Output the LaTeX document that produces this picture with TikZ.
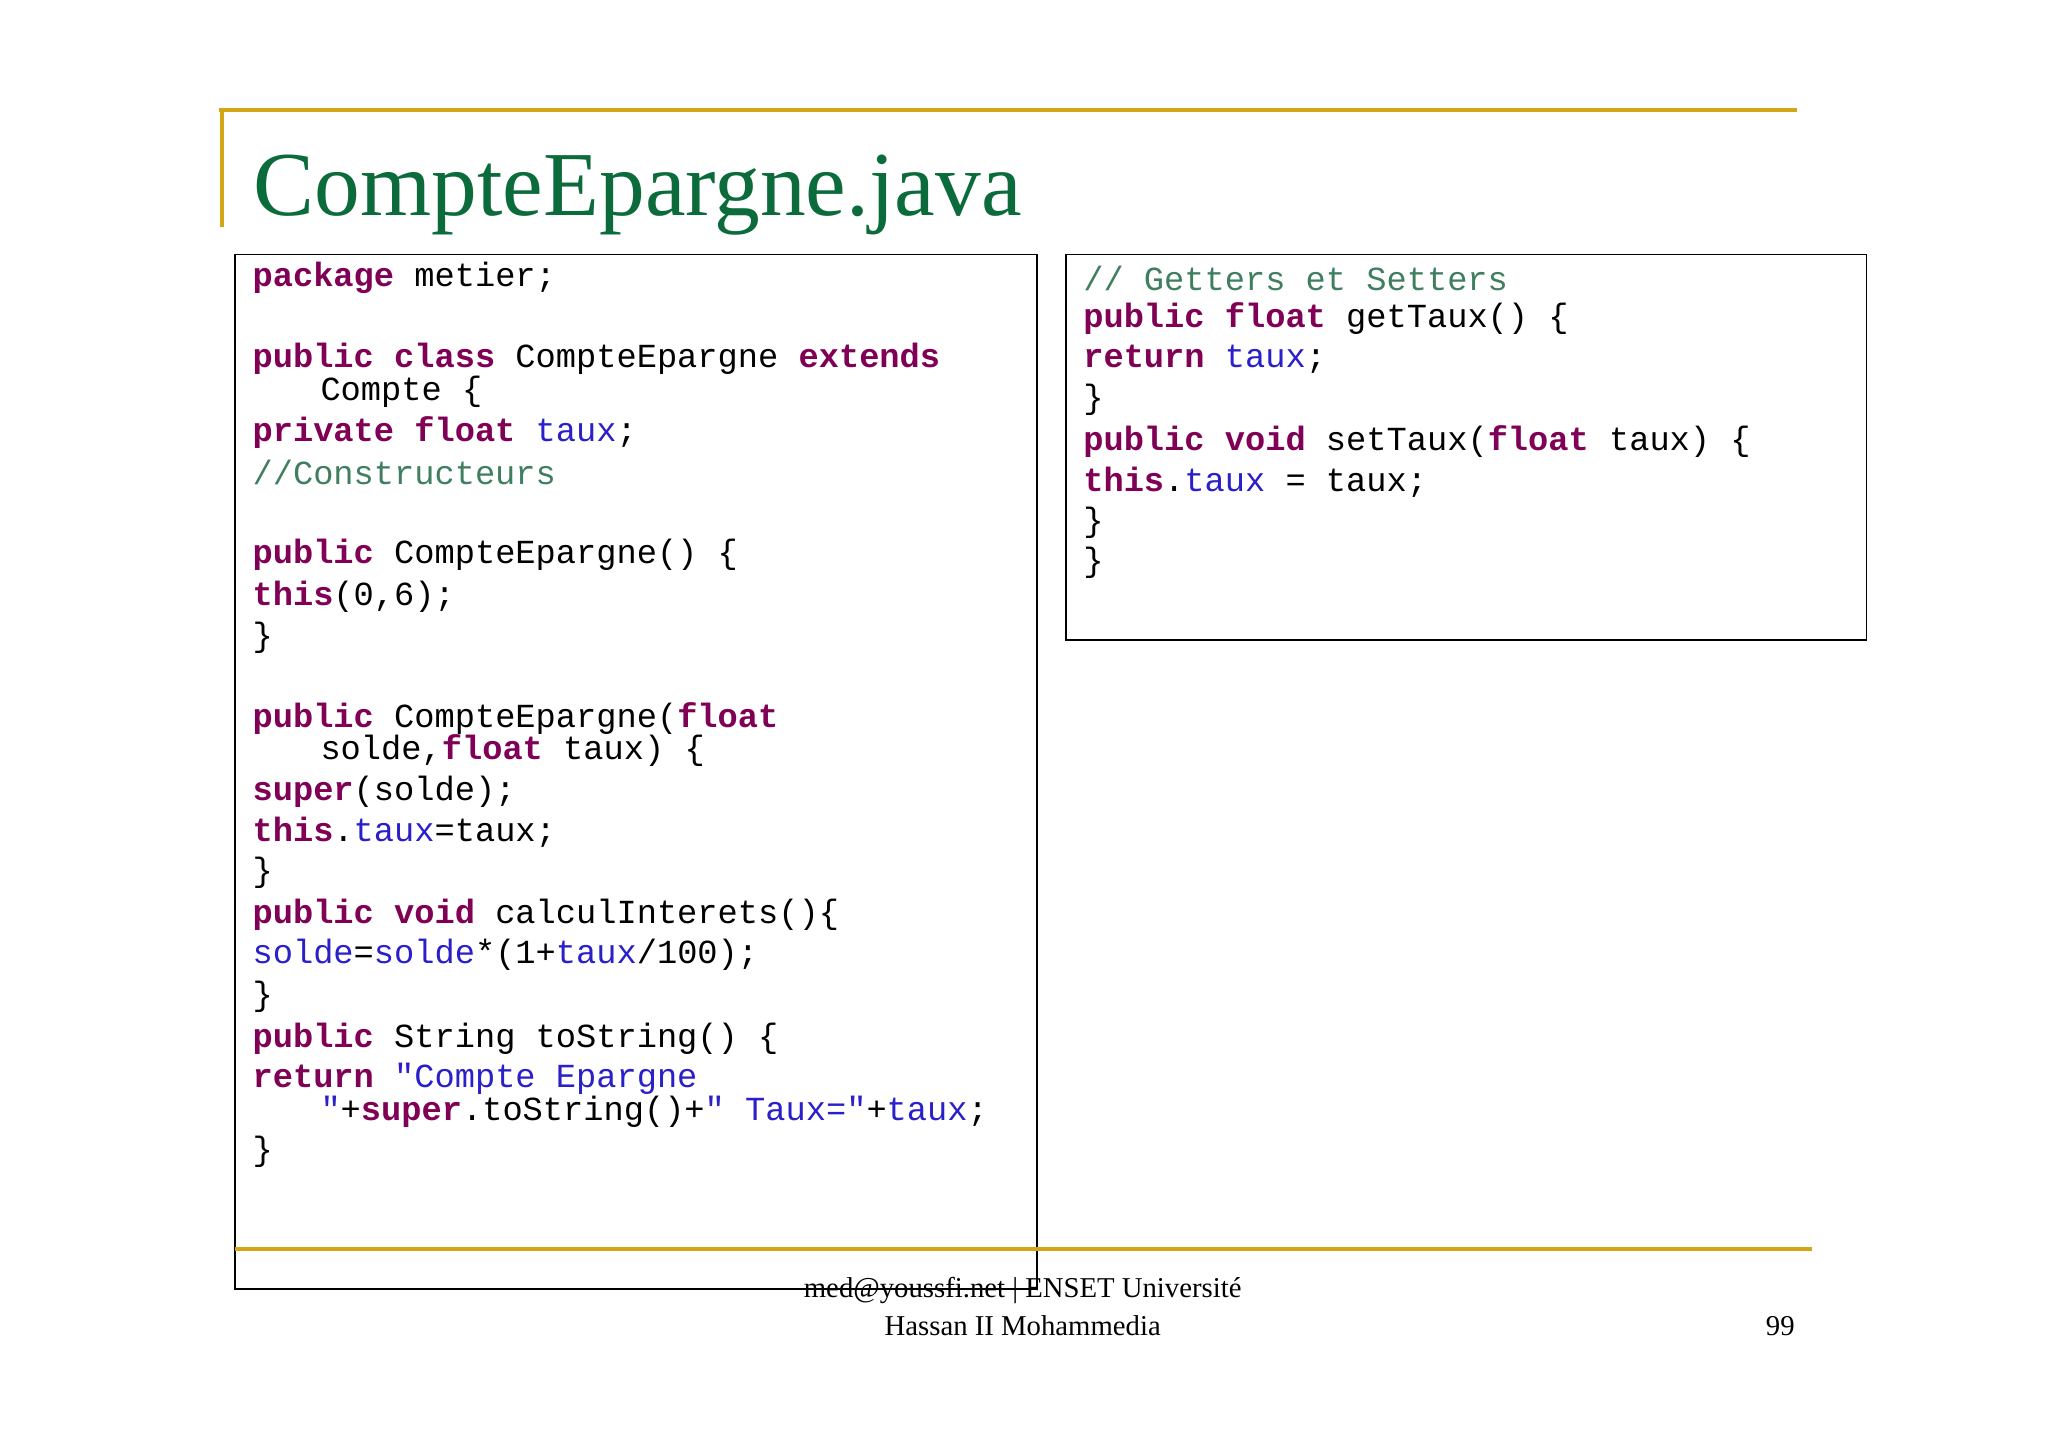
\documentclass[tikz,border=0pt]{standalone}
\usepackage{fontspec}
\setmainfont{Liberation Serif}
\setmonofont{Liberation Mono}
\definecolor{gold}{HTML}{D4A514}
\definecolor{ttl}{HTML}{0B6B3A}
\definecolor{jk}{HTML}{7F0055}
\definecolor{jf}{HTML}{2A1FC8}
\definecolor{jc}{HTML}{3F7F5F}
\newcommand\jkw[1]{\textcolor{jk}{\bfseries #1}}
\newcommand\jfd[1]{\textcolor{jf}{#1}}
\newcommand\jcm[1]{\textcolor{jc}{#1}}
\begin{document}
\begin{tikzpicture}[x=0.5pt,y=-0.5pt,
 cl/.style={anchor=west,inner sep=0pt,font=\ttfamily\fontsize{12.9}{15}\selectfont},
 ft/.style={inner sep=0pt,font=\fontsize{11}{12}\selectfont}]
\useasboundingbox (0,0) rectangle (1568,1108);
\draw[gold,line width=1.5pt] (168,84) -- (1376,84);
\draw[gold,line width=1.5pt] (170,84) -- (170,174);
\node[anchor=base west,inner sep=0pt,text=ttl,font=\fontsize{35}{40}\selectfont] (title) at (194,165) {CompteEpargne.java};
\draw[line width=0.6pt] (180,195) rectangle (794,987);
\draw[line width=0.6pt] (816,195) rectangle (1429,490);
\draw[gold,line width=1.5pt] (180,956) -- (1387,956);
% left code
\node[cl] (l1) at (193,213) {\jkw{package} metier;};
\node[cl] (l2) at (193,275) {\jkw{public class} CompteEpargne \jkw{extends}};
\node[cl] (l3) at (245,300) {Compte \{};
\node[cl] (l4) at (193,331) {\jkw{private float} \jfd{taux};};
\node[cl] (l5) at (193,362) {\jcm{//Constructeurs}};
\node[cl] (l6) at (193,425) {\jkw{public} CompteEpargne() \{};
\node[cl] (l7) at (193,457) {\jkw{this}(0,6);};
\node[cl] (l8) at (193,488) {\}};
\node[cl] (l9) at (193,550) {\jkw{public} CompteEpargne(\jkw{float}};
\node[cl] (l10) at (245,575) {solde,\jkw{float} taux) \{};
\node[cl] (l11) at (193,606) {\jkw{super}(solde);};
\node[cl] (l12) at (193,637) {\jkw{this}.\jfd{taux}=taux;};
\node[cl] (l13) at (193,668) {\}};
\node[cl] (l14) at (193,700) {\jkw{public void} calculInterets()\{};
\node[cl] (l15) at (193,731) {\jfd{solde}=\jfd{solde}*(1+\jfd{taux}/100);};
\node[cl] (l16) at (193,763) {\}};
\node[cl] (l17) at (193,795) {\jkw{public} String toString() \{};
\node[cl] (l18) at (193,826) {\jkw{return} \jfd{"Compte Epargne}};
\node[cl] (l19) at (245,851) {\jfd{"}+\jkw{super}.toString()+\jfd{" Taux="}+\jfd{taux};};
\node[cl] (l20) at (193,882) {\}};
% right code
\node[cl] (r1) at (829,213) {\jcm{// Getters et Setters}};
\node[cl] (r2) at (829,244) {\jkw{public float} getTaux() \{};
\node[cl] (r3) at (829,275) {\jkw{return} \jfd{taux};};
\node[cl] (r4) at (829,306) {\}};
\node[cl] (r5) at (829,338) {\jkw{public void} setTaux(\jkw{float} taux) \{};
\node[cl] (r6) at (829,369) {\jkw{this}.\jfd{taux} = taux;};
\node[cl] (r7) at (829,400) {\}};
\node[cl] (r8) at (829,431) {\}};
% footer
\node[ft] (f1) at (783,988) {med@youssfi.net | ENSET Université};
\node[ft] (f2) at (783,1015) {Hassan II Mohammedia};
\node[ft] (f3) at (1363,1015) {99};
\end{tikzpicture}
\end{document}
